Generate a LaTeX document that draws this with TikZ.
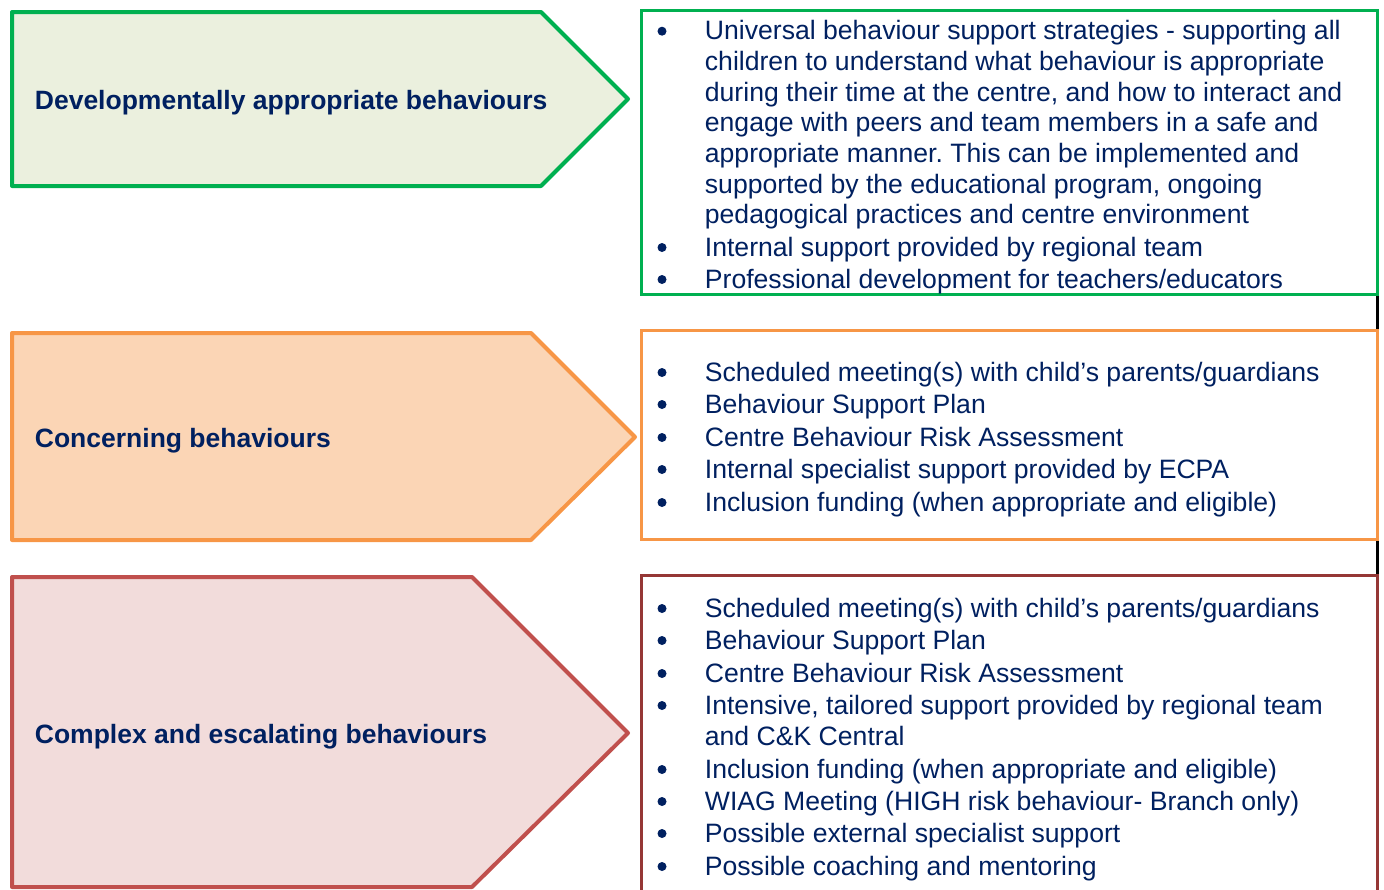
\documentclass[tikz,border=0pt]{standalone}
\usepackage{fontspec}
\setmainfont{Liberation Sans}
\frenchspacing

\definecolor{navy}{HTML}{002060}
\definecolor{grnline}{HTML}{00B050}
\definecolor{grnfill}{HTML}{EBF0DE}
\definecolor{orgline}{HTML}{F79646}
\definecolor{orgfill}{HTML}{FBD5B5}
\definecolor{redline}{HTML}{C0504D}
\definecolor{redfill}{HTML}{F2DCDB}
\definecolor{darkred}{HTML}{953735}

\tikzset{
  levelarrow/.style={line width=2pt,line join=round},
  listbox/.style={line width=1.5pt},
  heading/.style={anchor=base west,inner sep=0pt,text=navy,font=\bfseries\fontsize{13.25}{16}\selectfont},
  itemtext/.style={anchor=base west,inner sep=0pt,text=navy,font=\fontsize{13.3}{16}\selectfont}
}

\begin{document}
\begin{tikzpicture}[x=0.5pt,y=-0.5pt]
\clip (0,0) rectangle (1384,889);

% levels
\filldraw[levelarrow,draw=grnline,fill=grnfill] (12,12) -- (541,12) -- (628,99) -- (541,186) -- (12,186) -- cycle;
\filldraw[levelarrow,draw=orgline,fill=orgfill] (12,333) -- (531,333) -- (635,437) -- (531,540) -- (12,540) -- cycle;
\filldraw[levelarrow,draw=redline,fill=redfill] (12,577) -- (472,577) -- (628,733) -- (472,887) -- (12,887) -- cycle;

\node[heading] (dev) at (34.5,109) {Developmentally appropriate behaviours};
\node[heading] (con) at (34.5,447) {Concerning behaviours};
\node[heading] (cpx) at (34.5,743) {Complex and escalating behaviours};

% table edges
\coordinate (b1se) at (1377.5,294.5);
\coordinate (b2ne) at (1377.5,330);
\coordinate (b2se) at (1377.5,539.5);
\coordinate (b3ne) at (1377.5,575);
\draw[line width=1.2pt] (b1se) -- (b2ne);
\draw[line width=1.2pt] (b2se) -- (b3ne);

\draw[listbox,grnline] (641.5,10.5) rectangle (b1se);
\draw[listbox,orgline] (641.5,330) rectangle (b2se);
\draw[listbox,darkred] (641.5,900) -- (641.5,575) -- (b3ne) -- (1377.5,900);

% support lists
\foreach \y/\b/\t [count=\i] in {
  39.7/1/{Universal behaviour support strategies - supporting all},
  70.4/0/{children to understand what behaviour is appropriate},
  101/0/{during their time at the centre, and how to interact and},
  131.7/0/{engage with peers and team members in a safe and},
  162.4/0/{appropriate manner. This can be implemented and},
  193/0/{supported by the educational program, ongoing},
  223.7/0/{pedagogical practices and centre environment},
  256/1/{Internal support provided by regional team},
  288/1/{Professional development for teachers/educators}}
{
  \ifnum\b=1 \fill[navy] (662,\y-8.5) circle (2.25pt); \fi
  \node[itemtext] (g\i) at (704.5,\y) {\t};
}

\foreach \y/\t [count=\i] in {
  381/{Scheduled meeting(s) with child’s parents/guardians},
  413/{Behaviour Support Plan},
  446/{Centre Behaviour Risk Assessment},
  478/{Internal specialist support provided by ECPA},
  511/{Inclusion funding (when appropriate and eligible)}}
{
  \fill[navy] (662,\y-8.5) circle (2.25pt);
  \node[itemtext] (o\i) at (704.5,\y) {\t};
}

\foreach \y/\b/\t [count=\i] in {
  617/1/{Scheduled meeting(s) with child’s parents/guardians},
  649/1/{Behaviour Support Plan},
  682/1/{Centre Behaviour Risk Assessment},
  714/1/{Intensive, tailored support provided by regional team},
  745/0/{and C\&K Central},
  778/1/{Inclusion funding (when appropriate and eligible)},
  810/1/{WIAG Meeting (HIGH risk behaviour- Branch only)},
  842/1/{Possible external specialist support},
  875/1/{Possible coaching and mentoring}}
{
  \ifnum\b=1 \fill[navy] (662,\y-8.5) circle (2.25pt); \fi
  \node[itemtext] (r\i) at (704.5,\y) {\t};
}
\end{tikzpicture}
\end{document}
